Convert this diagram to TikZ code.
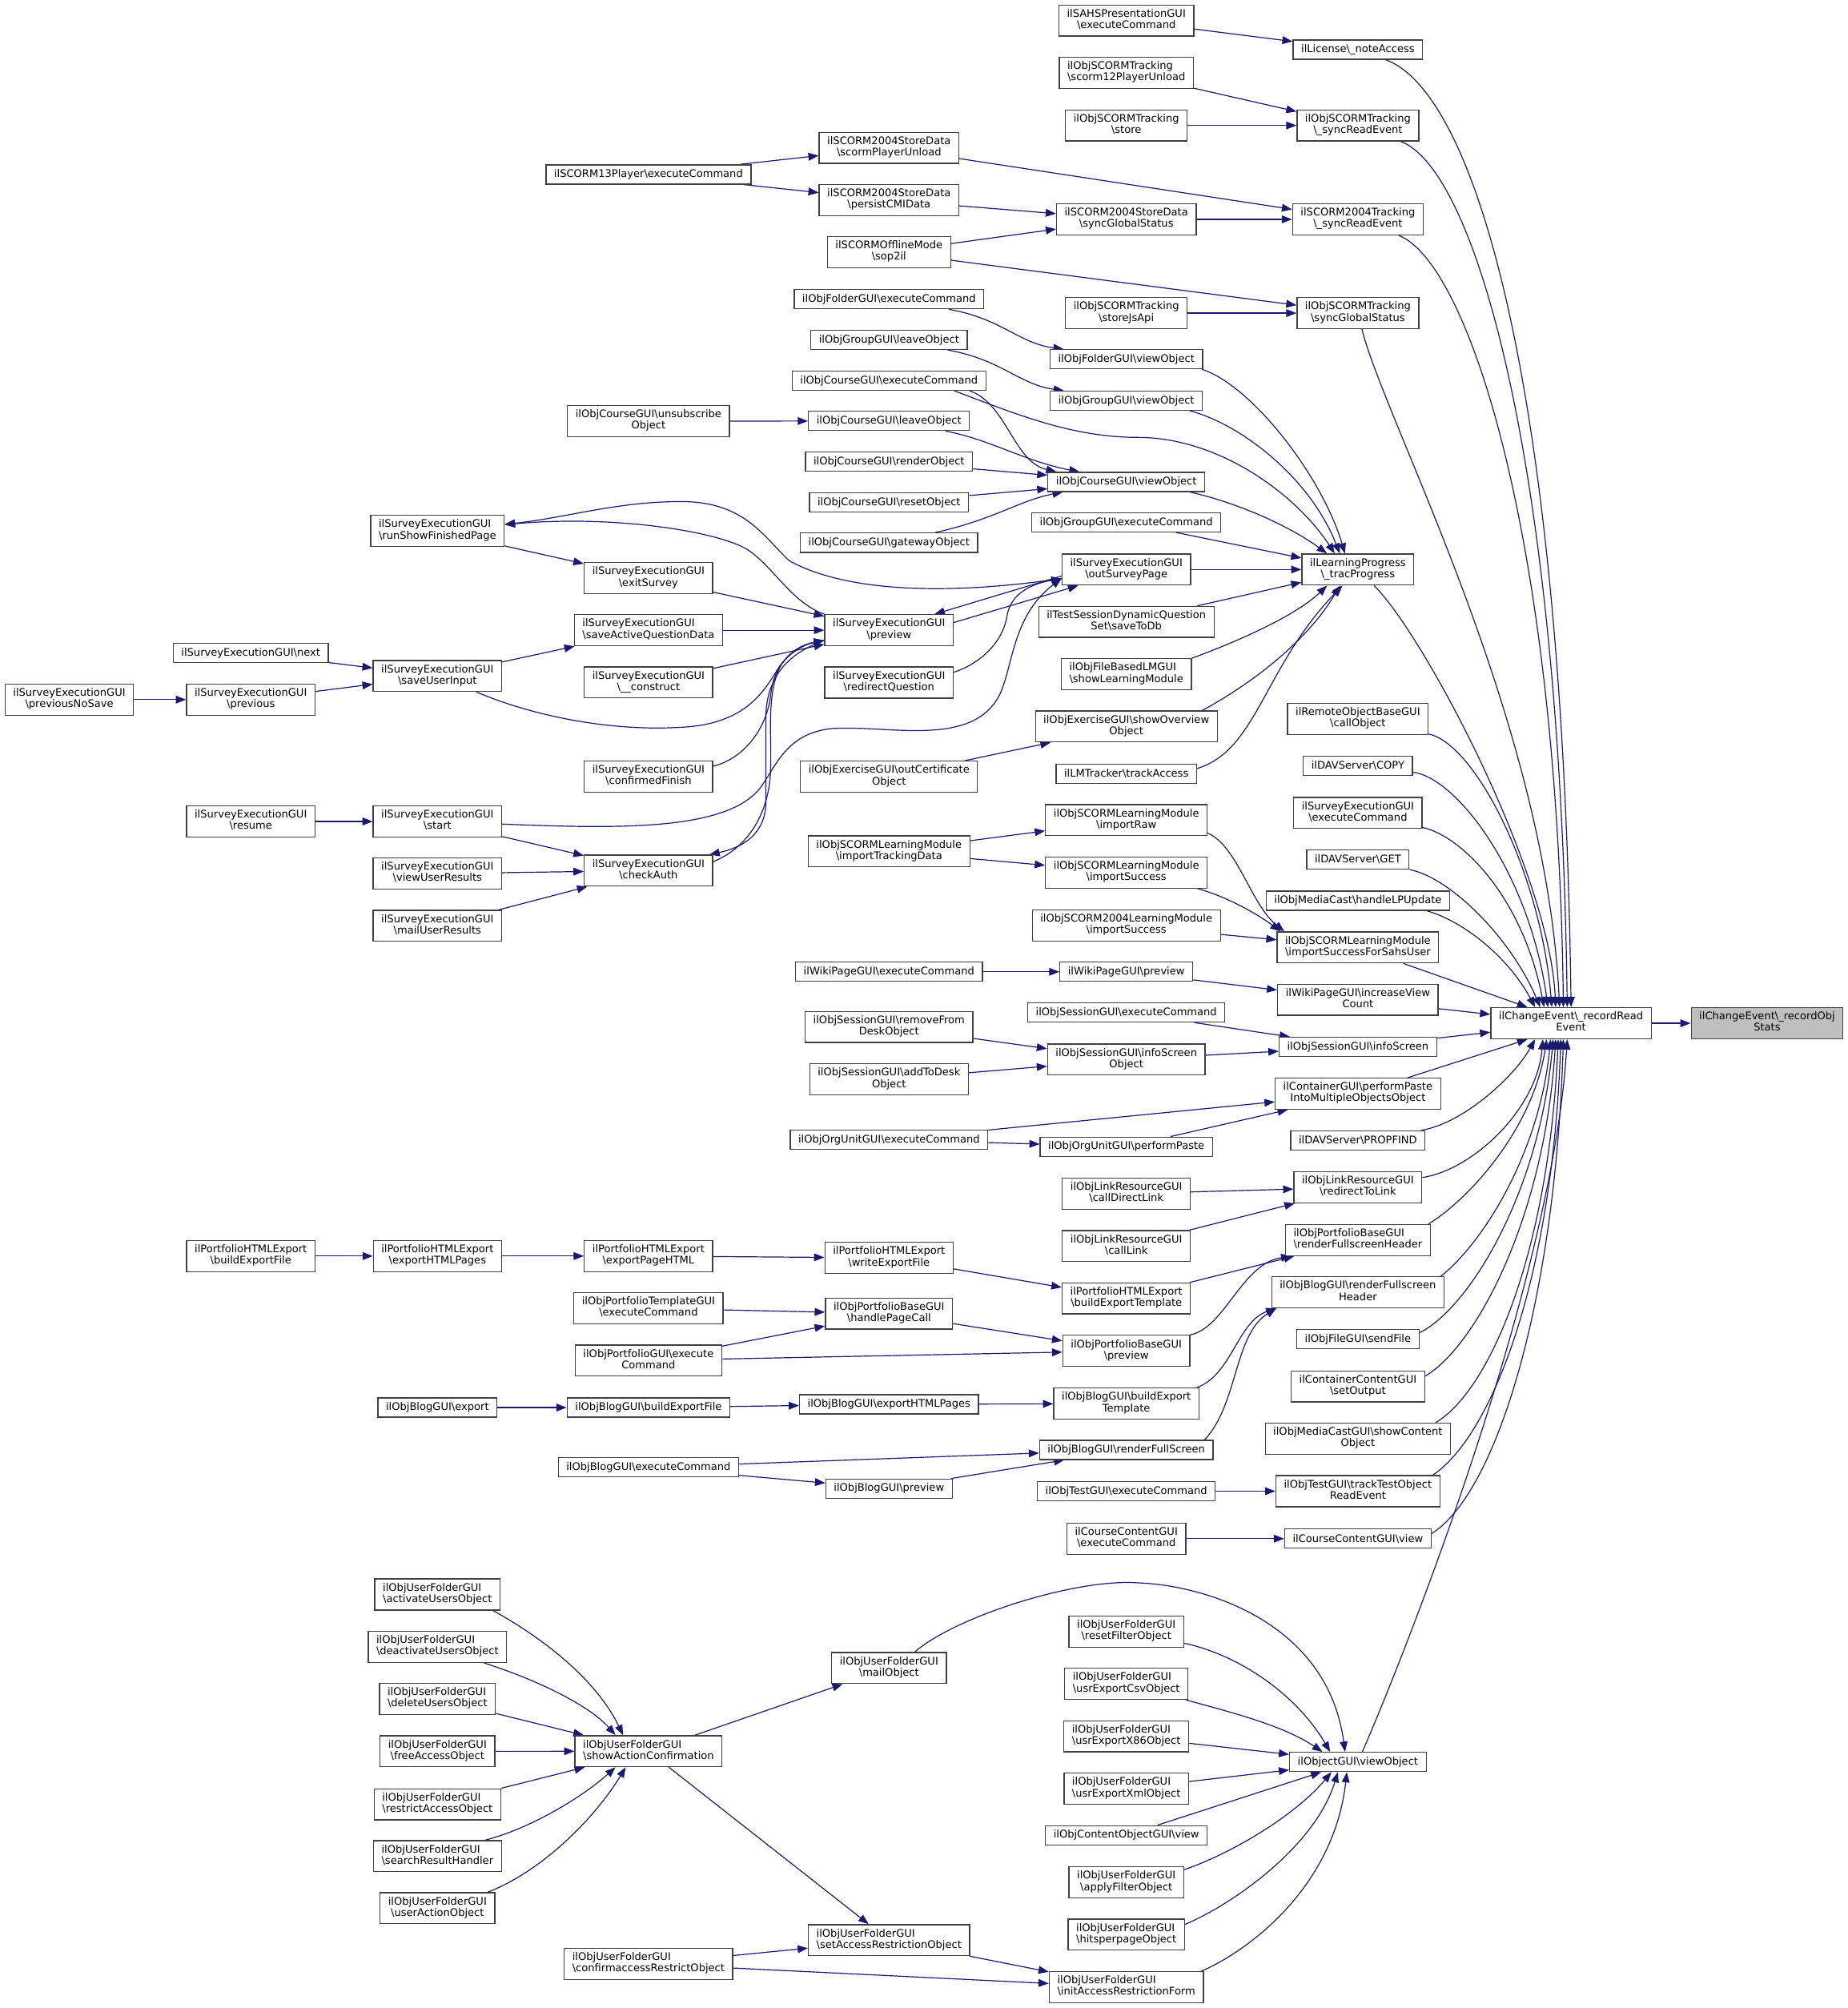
\documentclass[tikz,border=0pt]{standalone}
\usepackage{fontspec}
\setmainfont{DejaVu Sans}
\usetikzlibrary{arrows.meta,calc}
\definecolor{edgec}{RGB}{25,25,112}
\definecolor{bordc}{RGB}{64,64,64}
\definecolor{rootc}{RGB}{191,191,191}
\newcommand\BSL{\textbackslash}
\newcommand\nfont{\fontsize{8.15}{8.8}\selectfont}
\newcommand\dxB[2]{\begin{tabular}{@{}l@{}}#1\\\multicolumn{1}{@{}c@{}}{#2}\end{tabular}}
\pgfdeclarelayer{bg}
\pgfsetlayers{bg,main}
\tikzset{
 nbox/.style={draw=bordc, fill=white, line width=0.8pt, inner xsep=6.3pt, inner ysep=0pt, font=\nfont},
 nb1/.style={nbox, minimum height=15pt},
 nb2/.style={nbox, minimum height=24.2pt},
 ed/.style={draw=edgec, line width=0.75pt, -{Triangle[length=8pt,width=6pt]}}
}
\begin{document}
\begin{tikzpicture}[x=1pt,y=-1pt]
\useasboundingbox (0,0) rectangle (1440,1565.4);
% r0 r1
\node[nb2, fill=rootc] (N0) at (1377.5,797.7) {\dxB{ilChangeEvent\BSL\_recordObj}{Stats}};
\node[nb2] (N1) at (1224.6,797.7) {\dxB{ilChangeEvent\BSL\_recordRead}{Event}};
% r2
\node[nb1] (lic) at (1058.5,38.7) {ilLicense\BSL\_noteAccess};
\node[nb2] (osync) at (1058.5,97.8) {\dxB{ilObjSCORMTracking}{\BSL\_syncReadEvent}};
\node[nb2] (s4sync) at (1058.5,171) {\dxB{ilSCORM2004Tracking}{\BSL\_syncReadEvent}};
\node[nb2] (osgs) at (1058.5,244.1) {\dxB{ilObjSCORMTracking}{\BSL{}syncGlobalStatus}};
\node[nb2] (lp) at (1058.5,444) {\dxB{ilLearningProgress}{\BSL\_tracProgress}};
\node[nb2] (rem) at (1058.5,560.4) {\dxB{ilRemoteObjectBaseGUI}{\BSL{}callObject}};
\node[nb1] (copy) at (1058.5,597) {ilDAVServer\BSL{}COPY};
\node[nb2] (sexec) at (1058.5,633.8) {\dxB{ilSurveyExecutionGUI}{\BSL{}executeCommand}};
\node[nb1] (get) at (1058.5,670.1) {ilDAVServer\BSL{}GET};
\node[nb1] (mc) at (1058.5,702.2) {ilObjMediaCast\BSL{}handleLPUpdate};
\node[nb2] (iss) at (1058.5,738.6) {\dxB{ilObjSCORMLearningModule}{\BSL{}importSuccessForSahsUser}};
\node[nb2] (wiv) at (1058.5,779.4) {\dxB{ilWikiPageGUI\BSL{}increaseView}{Count}};
\node[nb1] (sis) at (1058.5,816.2) {ilObjSessionGUI\BSL{}infoScreen};
\node[nb2] (cpp) at (1058.5,852.6) {\dxB{ilContainerGUI\BSL{}performPaste}{IntoMultipleObjectsObject}};
\node[nb1] (prop) at (1058.5,889) {ilDAVServer\BSL{}PROPFIND};
\node[nb2] (rtl) at (1058.5,925.6) {\dxB{ilObjLinkResourceGUI}{\BSL{}redirectToLink}};
\node[nb2] (pfh) at (1058.5,966.8) {\dxB{ilObjPortfolioBaseGUI}{\BSL{}renderFullscreenHeader}};
\node[nb2] (bfh) at (1058.5,1007.5) {\dxB{ilObjBlogGUI\BSL{}renderFullscreen}{Header}};
\node[nb1] (sf) at (1058.5,1044) {ilObjFileGUI\BSL{}sendFile};
\node[nb2] (cso) at (1058.5,1080.8) {\dxB{ilContainerContentGUI}{\BSL{}setOutput}};
\node[nb2] (mcs) at (1058.5,1121.5) {\dxB{ilObjMediaCastGUI\BSL{}showContent}{Object}};
\node[nb2] (tt) at (1058.5,1162.5) {\dxB{ilObjTestGUI\BSL{}trackTestObject}{ReadEvent}};
\node[nb1] (ccv) at (1058.5,1199.5) {ilCourseContentGUI\BSL{}view};
\node[nb1] (ogv) at (1058.5,1373.6) {ilObjectGUI\BSL{}viewObject};
% r3
\node[nb2] (sahs) at (878,16) {\dxB{ilSAHSPresentationGUI}{\BSL{}executeCommand}};
\node[nb2] (s12) at (878,56.8) {\dxB{ilObjSCORMTracking}{\BSL{}scorm12PlayerUnload}};
\node[nb2] (store) at (878,97.8) {\dxB{ilObjSCORMTracking}{\BSL{}store}};
\node[nb2] (sdsgs) at (878,171) {\dxB{ilSCORM2004StoreData}{\BSL{}syncGlobalStatus}};
\node[nb2] (jsapi) at (878,244.1) {\dxB{ilObjSCORMTracking}{\BSL{}storeJsApi}};
\node[nb1] (fvo) at (878,280) {ilObjFolderGUI\BSL{}viewObject};
\node[nb1] (gvo) at (878,312.4) {ilObjGroupGUI\BSL{}viewObject};
\node[nb1] (cvo) at (878,375.7) {ilObjCourseGUI\BSL{}viewObject};
\node[nb1] (gex) at (878,407.2) {ilObjGroupGUI\BSL{}executeCommand};
\node[nb2] (osp) at (878,444) {\dxB{ilSurveyExecutionGUI}{\BSL{}outSurveyPage}};
\node[nb2] (tsd) at (878,484.8) {\dxB{ilTestSessionDynamicQuestion}{Set\BSL{}saveToDb}};
\node[nb2] (fblm) at (878,525.6) {\dxB{ilObjFileBasedLMGUI}{\BSL{}showLearningModule}};
\node[nb2] (eso) at (878,566.3) {\dxB{ilObjExerciseGUI\BSL{}showOverview}{Object}};
\node[nb1] (lmt) at (878,603.1) {ilLMTracker\BSL{}trackAccess};
\node[nb2] (ir) at (878,639.4) {\dxB{ilObjSCORMLearningModule}{\BSL{}importRaw}};
\node[nb2] (isu) at (878,680.2) {\dxB{ilObjSCORMLearningModule}{\BSL{}importSuccess}};
\node[nb2] (is4) at (878,721.5) {\dxB{ilObjSCORM2004LearningModule}{\BSL{}importSuccess}};
\node[nb1] (wpv) at (878,757.6) {ilWikiPageGUI\BSL{}preview};
\node[nb1] (sex) at (878,789.3) {ilObjSessionGUI\BSL{}executeCommand};
\node[nb2] (siso) at (878,826) {\dxB{ilObjSessionGUI\BSL{}infoScreen}{Object}};
\node[nb1] (oupp) at (878,893.9) {ilObjOrgUnitGUI\BSL{}performPaste};
\node[nb2] (cdl) at (878,930.6) {\dxB{ilObjLinkResourceGUI}{\BSL{}callDirectLink}};
\node[nb2] (cl) at (878,971.4) {\dxB{ilObjLinkResourceGUI}{\BSL{}callLink}};
\node[nb2] (pbet) at (878,1012.2) {\dxB{ilPortfolioHTMLExport}{\BSL{}buildExportTemplate}};
\node[nb2] (pbp) at (878,1053.1) {\dxB{ilObjPortfolioBaseGUI}{\BSL{}preview}};
\node[nb2] (bbet) at (878,1094.2) {\dxB{ilObjBlogGUI\BSL{}buildExport}{Template}};
\node[nb1] (brfs) at (878,1130.3) {ilObjBlogGUI\BSL{}renderFullScreen};
\node[nb1] (tex) at (878,1162.5) {ilObjTestGUI\BSL{}executeCommand};
\node[nb2] (ccex) at (878,1199.5) {\dxB{ilCourseContentGUI}{\BSL{}executeCommand}};
\node[nb2] (urf) at (878,1272) {\dxB{ilObjUserFolderGUI}{\BSL{}resetFilterObject}};
\node[nb2] (ucsv) at (878,1312.7) {\dxB{ilObjUserFolderGUI}{\BSL{}usrExportCsvObject}};
\node[nb2] (ux86) at (878,1353.6) {\dxB{ilObjUserFolderGUI}{\BSL{}usrExportX86Object}};
\node[nb2] (uxml) at (878,1394.5) {\dxB{ilObjUserFolderGUI}{\BSL{}usrExportXmlObject}};
\node[nb1] (cov) at (878,1430.7) {ilObjContentObjectGUI\BSL{}view};
\node[nb2] (uaf) at (878,1467.5) {\dxB{ilObjUserFolderGUI}{\BSL{}applyFilterObject}};
\node[nb2] (uhp) at (878,1508.2) {\dxB{ilObjUserFolderGUI}{\BSL{}hitsperpageObject}};
\node[nb2] (uiar) at (878,1549.2) {\dxB{ilObjUserFolderGUI}{\BSL{}initAccessRestrictionForm}};
% r4
\node[nb2] (spu) at (693,115.3) {\dxB{ilSCORM2004StoreData}{\BSL{}scormPlayerUnload}};
\node[nb2] (pcmi) at (693,156) {\dxB{ilSCORM2004StoreData}{\BSL{}persistCMIData}};
\node[nb2] (sop) at (693,196.6) {\dxB{ilSCORMOfflineMode}{\BSL{}sop2il}};
\node[nb1] (fex) at (693,233.3) {ilObjFolderGUI\BSL{}executeCommand};
\node[nb1] (glo) at (693,265) {ilObjGroupGUI\BSL{}leaveObject};
\node[nb1] (cex) at (693,296.8) {ilObjCourseGUI\BSL{}executeCommand};
\node[nb1] (clo) at (693,328.2) {ilObjCourseGUI\BSL{}leaveObject};
\node[nb1] (cro) at (693,359.9) {ilObjCourseGUI\BSL{}renderObject};
\node[nb1] (crs) at (693,391.7) {ilObjCourseGUI\BSL{}resetObject};
\node[nb1] (cgo) at (693,423.1) {ilObjCourseGUI\BSL{}gatewayObject};
\node[nb2] (prv) at (693,491.3) {\dxB{ilSurveyExecutionGUI}{\BSL{}preview}};
\node[nb2] (rq) at (693,532.1) {\dxB{ilSurveyExecutionGUI}{\BSL{}redirectQuestion}};
\node[nb2] (eoc) at (693,605.5) {\dxB{ilObjExerciseGUI\BSL{}outCertificate}{Object}};
\node[nb2] (itd) at (693,663.7) {\dxB{ilObjSCORMLearningModule}{\BSL{}importTrackingData}};
\node[nb1] (wex) at (693,757.6) {ilWikiPageGUI\BSL{}executeCommand};
\node[nb2] (srd) at (693,800.5) {\dxB{ilObjSessionGUI\BSL{}removeFrom}{DeskObject}};
\node[nb2] (sad) at (693,841.5) {\dxB{ilObjSessionGUI\BSL{}addToDesk}{Object}};
\node[nb1] (ouex) at (693,888.5) {ilObjOrgUnitGUI\BSL{}executeCommand};
\node[nb2] (pwef) at (693,980.6) {\dxB{ilPortfolioHTMLExport}{\BSL{}writeExportFile}};
\node[nb2] (phpc) at (693,1024) {\dxB{ilObjPortfolioBaseGUI}{\BSL{}handlePageCall}};
\node[nb1] (behp) at (693,1094.8) {ilObjBlogGUI\BSL{}exportHTMLPages};
\node[nb1] (bprv) at (693,1160.5) {ilObjBlogGUI\BSL{}preview};
\node[nb2] (umo) at (693,1300.4) {\dxB{ilObjUserFolderGUI}{\BSL{}mailObject}};
\node[nb2] (usar) at (693,1512.5) {\dxB{ilObjUserFolderGUI}{\BSL{}setAccessRestrictionObject}};
% r5
\node[nb1] (s13) at (505.5,136) {ilSCORM13Player\BSL{}executeCommand};
\node[nb2] (cuo) at (505.5,328.3) {\dxB{ilObjCourseGUI\BSL{}unsubscribe}{Object}};
\node[nb2] (exs) at (505.5,450.7) {\dxB{ilSurveyExecutionGUI}{\BSL{}exitSurvey}};
\node[nb2] (saq) at (505.5,491.3) {\dxB{ilSurveyExecutionGUI}{\BSL{}saveActiveQuestionData}};
\node[nb2] (con) at (505.5,532) {\dxB{ilSurveyExecutionGUI}{\BSL\_\_construct}};
\node[nb2] (cf) at (505.5,605.3) {\dxB{ilSurveyExecutionGUI}{\BSL{}confirmedFinish}};
\node[nb2] (ca) at (505.5,678.7) {\dxB{ilSurveyExecutionGUI}{\BSL{}checkAuth}};
\node[nb2] (peph) at (505.5,979.2) {\dxB{ilPortfolioHTMLExport}{\BSL{}exportPageHTML}};
\node[nb2] (ptex) at (505.5,1019.9) {\dxB{ilObjPortfolioTemplateGUI}{\BSL{}executeCommand}};
\node[nb2] (pgex) at (505.5,1060.6) {\dxB{ilObjPortfolioGUI\BSL{}execute}{Command}};
\node[nb1] (bbef) at (505.5,1097.3) {ilObjBlogGUI\BSL{}buildExportFile};
\node[nb1] (bex) at (505.5,1143.9) {ilObjBlogGUI\BSL{}executeCommand};
\node[nb2] (usac) at (505.5,1365.2) {\dxB{ilObjUserFolderGUI}{\BSL{}showActionConfirmation}};
\node[nb2] (ucar) at (505.5,1531) {\dxB{ilObjUserFolderGUI}{\BSL{}confirmaccessRestrictObject}};
% r6
\node[nb2] (rsf) at (341,413.9) {\dxB{ilSurveyExecutionGUI}{\BSL{}runShowFinishedPage}};
\node[nb2] (sui) at (341,527) {\dxB{ilSurveyExecutionGUI}{\BSL{}saveUserInput}};
\node[nb2] (sst) at (341,640.4) {\dxB{ilSurveyExecutionGUI}{\BSL{}start}};
\node[nb2] (vur) at (341,681) {\dxB{ilSurveyExecutionGUI}{\BSL{}viewUserResults}};
\node[nb2] (mur) at (341,721.8) {\dxB{ilSurveyExecutionGUI}{\BSL{}mailUserResults}};
\node[nb2] (pehp) at (341,979.2) {\dxB{ilPortfolioHTMLExport}{\BSL{}exportHTMLPages}};
\node[nb1] (bexp) at (341,1097.3) {ilObjBlogGUI\BSL{}export};
\node[nb2] (uact) at (341,1243) {\dxB{ilObjUserFolderGUI}{\BSL{}activateUsersObject}};
\node[nb2] (udeact) at (341,1283.9) {\dxB{ilObjUserFolderGUI}{\BSL{}deactivateUsersObject}};
\node[nb2] (udel) at (341,1324.5) {\dxB{ilObjUserFolderGUI}{\BSL{}deleteUsersObject}};
\node[nb2] (ufree) at (341,1365.3) {\dxB{ilObjUserFolderGUI}{\BSL{}freeAccessObject}};
\node[nb2] (urestr) at (341,1406.6) {\dxB{ilObjUserFolderGUI}{\BSL{}restrictAccessObject}};
\node[nb2] (usrh) at (341,1447) {\dxB{ilObjUserFolderGUI}{\BSL{}searchResultHandler}};
\node[nb2] (uuao) at (341,1487.6) {\dxB{ilObjUserFolderGUI}{\BSL{}userActionObject}};
% r7 r8
\node[nb1] (snext) at (195.5,509) {ilSurveyExecutionGUI\BSL{}next};
\node[nb2] (sprev) at (195.5,545.4) {\dxB{ilSurveyExecutionGUI}{\BSL{}previous}};
\node[nb2] (sres) at (195.5,640.4) {\dxB{ilSurveyExecutionGUI}{\BSL{}resume}};
\node[nb2] (pbef) at (195.5,979.2) {\dxB{ilPortfolioHTMLExport}{\BSL{}buildExportFile}};
\node[nb2] (spns) at (54,545.4) {\dxB{ilSurveyExecutionGUI}{\BSL{}previousNoSave}};

\begin{pgfonlayer}{bg}
\fill[white] (0,0) rectangle (1440,1565.4);
\foreach \a/\b in {N1/N0, sahs/lic, s12/osync, store/osync, spu/s4sync, sdsgs/s4sync, jsapi/osgs, sop/osgs, pcmi/sdsgs, sop/sdsgs, s13/spu, s13/pcmi, cuo/clo, cro/cvo, crs/cvo, gex/lp, osp/lp, tsd/lp, rsf/exs, exs/prv, saq/prv, con/prv, sui/saq, snext/sui, sprev/sui, spns/sprev, sres/sst, sst/ca, vur/ca, mur/ca, eoc/eso, itd/ir, itd/isu, is4/iss, wex/wpv, wpv/wiv, wiv/N1, sex/sis, srd/siso, sad/siso, siso/sis, sis/N1, ouex/cpp, ouex/oupp, oupp/cpp, cdl/rtl, cl/rtl, pbef/pehp, pehp/peph, peph/pwef, pwef/pbet, pbet/pfh, ptex/phpc, pgex/phpc, pgex/pbp, phpc/pbp, bexp/bbef, bbef/behp, behp/bbet, bex/brfs, bex/bprv, bprv/brfs, tex/tt, ccex/ccv, udel/usac, ufree/usac, urestr/usac, usac/umo, usac/usar, ucar/usar, ucar/uiar, usar/uiar, ux86/ogv, uxml/ogv}
  \draw[ed] (\a) -- (\b);
% fan into N1 (top)
\draw[ed] (lic) .. controls (1150,72) and (1218,300) .. ([xshift=63pt]N1.north west);
\draw[ed] (osync) .. controls (1150,132) and (1216,360) .. ([xshift=60pt]N1.north west);
\draw[ed] (s4sync) .. controls (1145,205) and (1214,420) .. ([xshift=57pt]N1.north west);
\draw[ed] (osgs) .. controls (1080,330) and (1205,560) .. ([xshift=54pt]N1.north west);
\draw[ed] (lp) .. controls (1110,495) and (1208,680) .. ([xshift=51pt]N1.north west);
\draw[ed] (rem) .. controls (1150,580) and (1201,680) .. ([xshift=48pt]N1.north west);
\draw[ed] (copy) .. controls (1135,606) and (1192,680) .. ([xshift=45pt]N1.north west);
\draw[ed] (sexec) .. controls (1140,652) and (1187,700) .. ([xshift=42pt]N1.north west);
\draw[ed] (get) .. controls (1130,684) and (1177,730) .. ([xshift=39pt]N1.north west);
\draw[ed] ([xshift=-18pt]mc.south east) .. controls (1140,718) and (1175,745) .. ([xshift=35pt]N1.north west);
\draw[ed] (iss) -- ([xshift=29pt]N1.north west);
% fan into N1 (bottom)
\draw[ed] (cpp) -- ([xshift=29pt]N1.south west);
\draw[ed] (prop) .. controls (1140,876) and (1180,840) .. ([xshift=35pt]N1.south west);
\draw[ed] (rtl) .. controls (1148,912) and (1198,865) .. ([xshift=41pt]N1.south west);
\draw[ed] ([xshift=-2pt]pfh.north east) .. controls (1145,935) and (1195,880) .. ([xshift=44pt]N1.south west);
\draw[ed] ([xshift=-3pt]bfh.north east) .. controls (1155,970) and (1200,900) .. ([xshift=47pt]N1.south west);
\draw[ed] ([yshift=5pt]sf.east) .. controls (1145,1020) and (1200,930) .. ([xshift=49pt]N1.south west);
\draw[ed] ([yshift=8pt]cso.east) .. controls (1150,1050) and (1204,950) .. ([xshift=51pt]N1.south west);
\draw[ed] ([xshift=-12pt]mcs.north east) .. controls (1160,1085) and (1207,980) .. ([xshift=53pt]N1.south west);
\draw[ed] ([xshift=-6pt]tt.north east) .. controls (1162,1120) and (1210,1000) .. ([xshift=55pt]N1.south west);
\draw[ed] ([yshift=4pt]ccv.east) .. controls (1165,1165) and (1212,1020) .. ([xshift=57pt]N1.south west);
\draw[ed] (ogv) .. controls (1095,1290) and (1210,1000) .. ([xshift=60pt]N1.south west);
% fan into tracProgress
\draw[ed] ([xshift=-1pt]fvo.south east) .. controls (975,300) and (1030,370) .. ([xshift=34pt]lp.north west);
\draw[ed] ([xshift=-10pt]gvo.south east) .. controls (965,330) and (1020,370) .. ([xshift=30pt]lp.north west);
\draw[ed] ([xshift=-25pt]cex.south east) .. controls (790,322) and (835,341) .. (887,341) .. controls (950,341) and (1010,385) .. ([xshift=26pt]lp.north west);
\draw[ed] ([xshift=-12pt]cvo.south east) .. controls (965,392) and (1005,410) .. ([xshift=20pt]lp.north west);
\draw[ed] (fblm.north east) .. controls (965,500) and (1010,480) .. ([xshift=20pt]lp.south west);
\draw[ed] ([xshift=-12pt]eso.north east) .. controls (990,525) and (1025,490) .. ([xshift=30pt]lp.south west);
\draw[ed] ([yshift=4pt]lmt.east) .. controls (980,585) and (985,520) .. ([xshift=32pt]lp.south west);
% course / folder / group
\draw[ed] (fex) .. controls (780,248) and (795,268) .. ([xshift=11pt]fvo.north west);
\draw[ed] (glo) .. controls (780,280) and (795,300) .. ([xshift=11pt]gvo.north west);
\draw[ed] ([xshift=-13pt]cex.south east) .. controls (785,315) and (790,360) .. ([xshift=7pt]cvo.north west);
\draw[ed] (clo) .. controls (770,342) and (800,360) .. ([xshift=25pt]cvo.north west);
\draw[ed] (cgo) .. controls (775,405) and (795,390) .. ([xshift=12pt]cvo.south west);
% survey
\draw[ed] ([yshift=-7pt]osp.west) .. controls (740,464) and (660,462) .. (615,437) .. controls (595,418) and (580,391) .. (531,391) .. controls (480,391) and (440,404) .. (rsf);
\draw[ed] (prv.north west) .. controls (618,470) and (605,445) .. (585,430) .. controls (565,415) and (480,401) .. (rsf);
\draw[ed] ([xshift=-20pt]sui.south east) .. controls (420,560) and (480,570) .. (530,567) .. controls (580,565) and (595,540) .. (606,522) .. controls (615,508) and (628,502) .. ([yshift=-8pt]prv.west);
\draw[ed] ([yshift=8pt]cf.east) .. controls (578,592) and (598,570) .. (601,540) .. controls (604,515) and (622,503) .. ([yshift=-8pt]prv.west);
\draw[ed] ([yshift=7pt]ca.east) .. controls (580,662) and (596,640) .. (600,610) .. controls (603,580) and (596,545) .. (608,520) .. controls (616,506) and (628,502) .. ([yshift=-8pt]prv.west);
\draw[ed] ([yshift=-8pt]prv.west) .. controls (612,510) and (597,530) .. (597,560) -- (597,625) .. controls (597,648) and (582,660) .. ([xshift=-3pt]ca.north east);
\draw[ed] (sst) .. controls (480,646) and (565,648) .. (592,615) .. controls (605,598) and (612,572) .. (648,568) .. controls (690,565) and (752,582) .. (776,547) .. controls (790,528) and (786,482) .. ([yshift=-7pt]osp.west);
\draw[ed] ([yshift=8pt]rq.east) .. controls (765,517) and (782,500) .. (785,480) .. controls (788,462) and (805,455) .. ([yshift=-7pt]osp.west);
\draw[ed] ([yshift=6pt]prv.east) -- ([xshift=13pt]osp.south west);
\draw[ed] ([yshift=-5pt]osp.west) -- ([xshift=-15pt]prv.north east);
% SCORM import
\draw[ed] ([yshift=-10pt]ir.east) .. controls (965,660) and (975,705) .. ([xshift=6pt]iss.north west);
\draw[ed] ([xshift=-8pt]isu.south east) .. controls (960,700) and (985,716) .. ([xshift=3pt]iss.north west);
% portfolio / blog
\draw[ed] (pbp.north east) .. controls (955,1035) and (968,985) .. ([xshift=5pt]pfh.south west);
\draw[ed] ([xshift=-2pt]bbet.north east) .. controls (960,1072) and (965,1030) .. ([xshift=4pt]bfh.south west);
\draw[ed] ([xshift=-7pt]brfs.north east) .. controls (965,1095) and (962,1040) .. ([xshift=4pt]bfh.south west);
% user folder
\draw[ed] ([xshift=-6pt]uact.south east) .. controls (425,1278) and (465,1310) .. ([xshift=38pt]usac.north west);
\draw[ed] ([xshift=-18pt]udeact.south east) .. controls (420,1310) and (460,1330) .. ([xshift=32pt]usac.north west);
\draw[ed] ([xshift=-13pt]usrh.north east) .. controls (415,1425) and (455,1400) .. ([xshift=32pt]usac.south west);
\draw[ed] ([xshift=-6pt]uuao.north east) .. controls (420,1460) and (462,1420) .. ([xshift=40pt]usac.south west);
\draw[ed] ([xshift=20pt]umo.north) .. controls (745,1260) and (840,1230) .. (888,1234) .. controls (940,1236) and (1035,1265) .. ([xshift=-10pt]ogv.north);
\draw[ed] ([yshift=-9pt]urf.east) .. controls (965,1290) and (1010,1320) .. ([xshift=32pt]ogv.north west);
\draw[ed] ([xshift=-2pt]ucsv.south east) .. controls (960,1335) and (1000,1345) .. ([xshift=26pt]ogv.north west);
\draw[ed] (cov) -- ([xshift=25pt]ogv.south west);
\draw[ed] ([yshift=10pt]uaf.east) .. controls (960,1445) and (1010,1415) .. ([xshift=33pt]ogv.south west);
\draw[ed] ([yshift=8pt]uhp.east) .. controls (960,1485) and (1025,1440) .. ([xshift=38pt]ogv.south west);
\draw[ed] ([xshift=-2pt]uiar.north east) .. controls (975,1520) and (1040,1470) .. ([xshift=45pt]ogv.south west);
\end{pgfonlayer}
\end{tikzpicture}
\end{document}
